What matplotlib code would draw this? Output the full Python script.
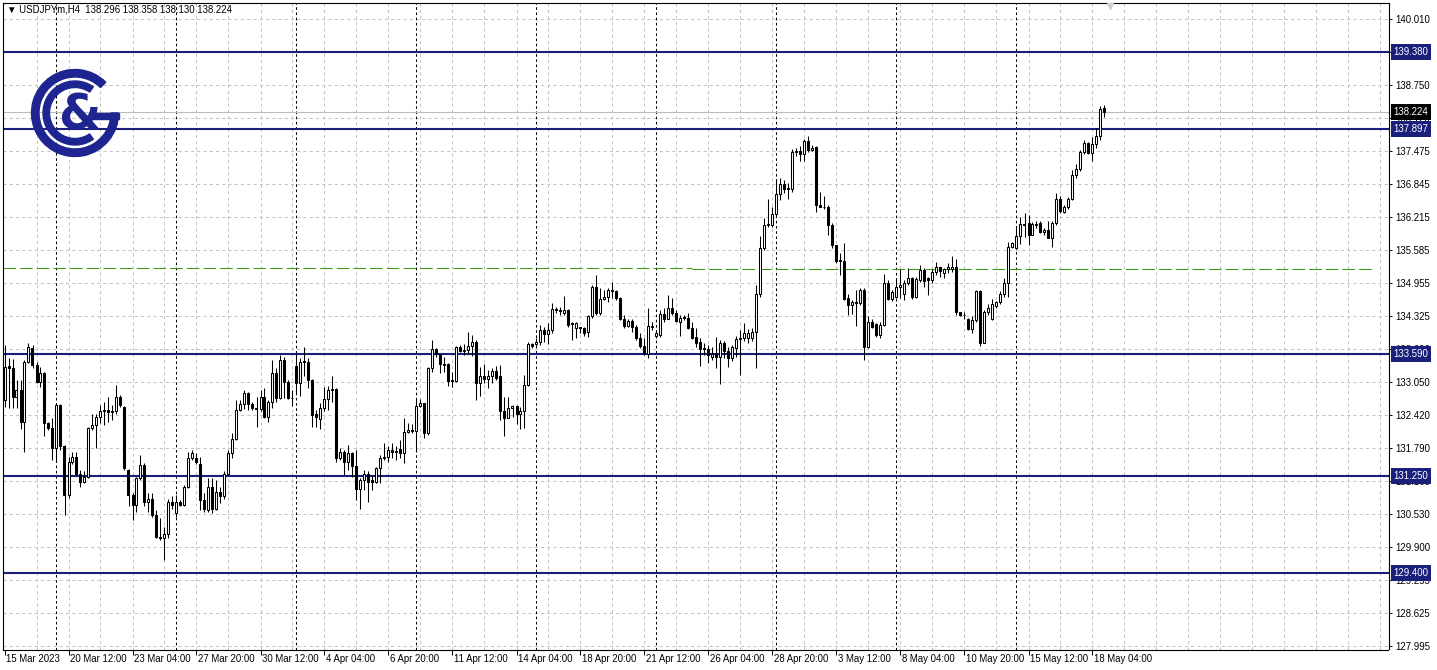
import numpy as np
import matplotlib.pyplot as plt
import matplotlib.transforms as mtrans
from matplotlib.patches import Wedge, Rectangle

plt.rcParams['font.family'] = ['Liberation Sans', 'DejaVu Sans']

# USDJPYm H4 candles, bar 0 = 15 Mar 2023 20:00
opens = [
    132.71, 133.36, 133.32, 132.77, 132.90, 132.29, 133.44, 133.70, 133.38, 133.06,
    133.23, 132.26, 132.18, 131.78, 132.61, 131.82, 130.89, 131.53, 131.62, 131.30,
    131.14, 131.24, 132.17, 132.23, 132.39, 132.49, 132.52, 132.47, 132.49, 132.77,
    132.58, 131.37, 130.89, 130.70, 131.21, 131.46, 130.76, 130.82, 130.51, 130.09,
    130.06, 130.15, 130.76, 130.54, 130.76, 130.70, 131.05, 131.59, 131.59, 131.49,
    130.79, 130.60, 131.05, 130.63, 130.94, 130.86, 131.29, 131.69, 131.97, 132.52,
    132.63, 132.84, 132.63, 132.55, 132.53, 132.77, 132.38, 132.68, 133.22, 132.74,
    133.48, 133.06, 132.74, 133.36, 133.03, 133.46, 133.43, 133.09, 132.44, 132.34,
    132.55, 132.72, 132.90, 132.92, 131.60, 131.72, 131.53, 131.69, 131.45, 131.00,
    131.18, 131.30, 131.18, 131.14, 131.40, 131.59, 131.61, 131.75, 131.72, 131.77,
    131.69, 132.10, 132.14, 132.12, 132.60, 132.65, 132.07, 133.32, 133.68, 133.60,
    133.40, 133.40, 133.09, 133.08, 133.72, 133.64, 133.66, 133.74, 133.83, 133.03,
    133.17, 133.11, 133.16, 133.27, 133.16, 132.49, 132.36, 132.55, 132.60, 132.44,
    132.49, 133.00, 133.78, 133.78, 133.83, 134.05, 133.98, 134.06, 134.45, 134.43,
    134.37, 134.44, 134.18, 134.08, 134.10, 134.08, 134.02, 134.31, 134.88, 134.37,
    134.64, 134.69, 134.82, 134.79, 134.66, 134.26, 134.13, 134.22, 134.11, 133.89,
    133.75, 133.59, 134.11, 133.94, 133.96, 134.35, 134.27, 134.48, 134.37, 134.21,
    134.29, 134.29, 134.09, 133.92, 133.83, 133.71, 133.69, 133.54, 133.59, 133.54,
    133.80, 133.65, 133.52, 133.71, 133.88, 133.89, 133.89, 133.89, 134.02, 134.75,
    135.62, 136.06, 136.06, 136.27, 136.65, 136.84, 136.75, 136.75, 137.47, 137.48,
    137.42, 137.67, 137.50, 137.56, 136.45, 136.41, 136.41, 136.06, 135.67, 135.39,
    135.37, 134.66, 134.53, 134.58, 134.56, 134.82, 133.73, 134.21, 134.16, 133.95,
    134.15, 134.96, 134.64, 134.69, 134.88, 134.75, 134.95, 135.04, 134.69, 135.01,
    135.20, 135.04, 135.01, 135.17, 135.25, 135.14, 135.22, 135.22, 135.25, 134.39,
    134.33, 134.27, 134.07, 134.24, 134.80, 133.80, 134.40, 134.26, 134.52, 134.58,
    134.75, 134.96, 135.65, 135.62, 135.86, 136.06, 136.10, 135.88, 136.08, 136.10,
    135.92, 135.97, 135.82, 136.10, 136.57, 136.31, 136.41, 136.57, 137.03, 137.14,
    137.46, 137.63, 137.44, 137.61, 137.77, 138.296,
]
highs = [
    133.76, 133.51, 133.49, 133.09, 133.09, 133.48, 133.81, 133.76, 133.44, 133.35,
    133.25, 132.29, 132.36, 132.65, 132.63, 131.85, 131.62, 131.72, 131.72, 131.37,
    131.34, 132.20, 132.45, 132.45, 132.61, 132.68, 132.77, 132.61, 133.00, 132.80,
    132.59, 131.38, 130.92, 131.24, 131.66, 131.50, 130.92, 130.92, 130.60, 130.44,
    130.28, 130.82, 130.86, 130.89, 130.79, 131.08, 131.72, 131.75, 131.69, 131.62,
    130.92, 131.21, 131.21, 131.18, 131.05, 131.34, 131.75, 132.07, 132.71, 132.71,
    132.90, 132.87, 132.68, 132.77, 132.90, 132.93, 132.71, 133.48, 133.32, 133.57,
    133.54, 133.09, 132.90, 133.60, 133.51, 133.73, 133.51, 133.12, 132.52, 132.65,
    132.95, 132.97, 133.16, 132.93, 131.79, 131.75, 131.85, 131.72, 131.75, 131.21,
    131.37, 131.34, 131.27, 131.43, 131.66, 131.89, 131.82, 131.88, 131.82, 131.94,
    132.36, 132.26, 132.25, 132.74, 132.72, 132.66, 133.35, 133.86, 133.70, 133.60,
    133.53, 133.41, 133.25, 133.74, 133.76, 133.78, 134.02, 133.96, 133.85, 133.35,
    133.40, 133.28, 133.32, 133.36, 133.38, 132.77, 132.77, 132.61, 132.61, 132.58,
    133.19, 133.83, 133.81, 133.89, 134.15, 134.11, 134.18, 134.56, 134.50, 134.50,
    134.70, 134.45, 134.21, 134.21, 134.11, 134.10, 134.34, 134.91, 135.10, 134.85,
    134.82, 134.85, 134.98, 134.82, 134.69, 134.34, 134.27, 134.27, 134.15, 133.99,
    133.89, 134.48, 134.21, 134.02, 134.43, 134.47, 134.72, 134.66, 134.43, 134.33,
    134.34, 134.37, 134.21, 134.08, 133.89, 133.80, 133.76, 133.73, 133.92, 133.86,
    133.84, 133.73, 133.76, 133.94, 134.05, 134.18, 134.07, 134.08, 134.91, 135.86,
    136.19, 136.56, 136.40, 136.94, 136.96, 136.92, 136.86, 137.52, 137.54, 137.58,
    137.71, 137.76, 137.60, 137.58, 136.70, 136.61, 136.45, 136.10, 135.68, 135.52,
    135.71, 134.75, 134.63, 134.82, 134.85, 134.85, 134.31, 134.27, 134.18, 134.21,
    135.12, 135.01, 134.82, 135.04, 135.22, 135.01, 135.23, 135.07, 135.07, 135.30,
    135.23, 135.07, 135.22, 135.36, 135.26, 135.23, 135.33, 135.46, 135.42, 134.40,
    134.39, 134.29, 134.31, 134.82, 134.82, 134.43, 134.54, 134.64, 134.61, 134.79,
    135.04, 135.74, 135.74, 136.05, 136.22, 136.29, 136.26, 136.12, 136.13, 136.13,
    136.00, 136.13, 136.13, 136.67, 136.61, 136.45, 136.59, 137.12, 137.24, 137.50,
    137.69, 137.66, 137.74, 137.92, 138.34, 138.358,
]
lows = [
    132.58, 132.55, 132.55, 132.55, 132.15, 131.72, 133.41, 133.32, 133.03, 132.96,
    132.01, 132.13, 131.56, 131.53, 131.75, 130.51, 130.83, 131.49, 131.27, 131.05,
    131.11, 131.21, 132.13, 131.78, 132.26, 132.23, 132.29, 132.33, 132.45, 132.57,
    131.37, 130.67, 130.41, 130.57, 131.18, 130.67, 130.57, 130.47, 130.06, 130.03,
    129.64, 130.06, 130.63, 130.47, 130.67, 130.67, 131.02, 131.56, 131.49, 130.60,
    130.57, 130.57, 130.54, 130.60, 130.73, 130.82, 131.27, 131.59, 131.94, 132.49,
    132.53, 132.52, 132.52, 132.20, 132.49, 132.36, 132.29, 132.55, 132.68, 132.72,
    132.74, 132.72, 132.59, 132.84, 132.79, 133.16, 132.93, 132.19, 132.20, 132.15,
    132.49, 132.52, 132.68, 131.53, 131.56, 131.27, 131.37, 131.24, 130.79, 130.62,
    130.99, 130.76, 130.99, 131.11, 131.11, 131.56, 131.53, 131.59, 131.56, 131.59,
    131.51, 132.07, 132.08, 131.75, 132.58, 131.98, 132.04, 133.25, 133.54, 133.23,
    133.25, 132.98, 132.95, 133.06, 133.62, 133.57, 133.59, 133.55, 132.71, 132.79,
    133.03, 132.93, 133.03, 133.09, 132.33, 132.01, 132.36, 132.39, 132.25, 132.15,
    132.17, 132.97, 133.70, 133.72, 133.76, 133.83, 133.79, 133.99, 134.38, 134.34,
    134.34, 134.11, 133.85, 133.89, 133.99, 133.94, 133.92, 134.29, 134.34, 134.33,
    134.63, 134.59, 134.66, 134.63, 134.24, 134.08, 134.11, 134.01, 133.86, 133.71,
    133.57, 133.52, 134.05, 133.89, 133.92, 134.21, 134.26, 134.34, 134.21, 133.94,
    134.24, 134.07, 133.88, 133.73, 133.37, 133.57, 133.41, 133.48, 133.33, 133.01,
    133.51, 133.35, 133.45, 133.54, 133.19, 133.84, 133.81, 133.84, 133.32, 134.69,
    135.58, 136.03, 136.03, 136.24, 136.54, 136.67, 136.56, 136.70, 137.39, 137.28,
    137.29, 137.47, 137.48, 136.31, 136.40, 136.37, 135.87, 135.63, 135.33, 135.10,
    134.63, 134.33, 134.35, 134.13, 134.53, 133.48, 133.71, 134.08, 133.92, 133.89,
    134.12, 134.63, 134.61, 134.67, 134.66, 134.63, 134.91, 134.64, 134.67, 134.98,
    134.88, 134.72, 134.95, 135.10, 135.07, 135.05, 135.14, 135.17, 134.34, 134.31,
    134.27, 134.05, 134.00, 134.21, 133.75, 133.80, 134.34, 134.24, 134.47, 134.54,
    134.69, 134.69, 135.63, 135.60, 135.69, 135.84, 135.68, 135.87, 136.00, 135.90,
    135.88, 135.81, 135.65, 136.06, 136.30, 136.29, 136.37, 136.54, 136.96, 137.10,
    137.42, 137.42, 137.28, 137.53, 137.69, 138.130,
]
closes = [
    133.35, 133.32, 132.77, 132.90, 132.29, 133.44, 133.73, 133.38, 133.06, 133.22,
    132.26, 132.18, 131.78, 132.61, 131.82, 130.89, 131.53, 131.62, 131.30, 131.14,
    131.24, 132.17, 132.23, 132.39, 132.49, 132.52, 132.47, 132.49, 132.77, 132.61,
    131.40, 130.89, 130.70, 131.21, 131.46, 130.76, 130.82, 130.51, 130.09, 130.06,
    130.15, 130.76, 130.70, 130.76, 130.70, 131.05, 131.59, 131.69, 131.53, 130.79,
    130.63, 131.05, 130.63, 130.94, 130.86, 131.29, 131.69, 131.97, 132.52, 132.63,
    132.84, 132.63, 132.55, 132.53, 132.77, 132.38, 132.68, 133.22, 132.74, 133.48,
    133.06, 132.74, 132.75, 133.03, 133.44, 133.43, 133.09, 132.42, 132.39, 132.55,
    132.72, 132.90, 132.92, 131.60, 131.72, 131.53, 131.69, 131.45, 131.00, 131.18,
    131.30, 131.14, 131.14, 131.40, 131.59, 131.61, 131.75, 131.72, 131.73, 131.69,
    132.10, 132.14, 132.12, 132.60, 132.65, 132.07, 133.32, 133.68, 133.60, 133.40,
    133.38, 133.08, 133.08, 133.72, 133.64, 133.67, 133.74, 133.83, 133.03, 133.17,
    133.11, 133.16, 133.27, 133.14, 132.49, 132.36, 132.55, 132.60, 132.44, 132.49,
    133.00, 133.78, 133.74, 133.83, 134.05, 133.98, 134.06, 134.45, 134.43, 134.42,
    134.44, 134.15, 134.17, 134.18, 134.08, 133.99, 134.31, 134.88, 134.37, 134.64,
    134.69, 134.82, 134.79, 134.66, 134.26, 134.13, 134.22, 134.11, 133.89, 133.75,
    133.59, 134.13, 134.13, 133.99, 134.35, 134.27, 134.48, 134.37, 134.22, 134.29,
    134.30, 134.09, 133.90, 133.80, 133.69, 133.69, 133.57, 133.60, 133.54, 133.80,
    133.65, 133.52, 133.73, 133.88, 133.89, 133.99, 133.99, 134.02, 134.75, 135.62,
    136.06, 136.08, 136.27, 136.65, 136.84, 136.75, 136.78, 137.47, 137.48, 137.42,
    137.67, 137.50, 137.54, 136.45, 136.41, 136.40, 136.06, 135.67, 135.37, 135.37,
    134.65, 134.53, 134.58, 134.56, 134.82, 133.73, 134.21, 134.11, 133.95, 134.15,
    134.95, 134.64, 134.77, 134.88, 134.91, 134.95, 135.04, 134.69, 135.03, 135.20,
    134.99, 135.01, 135.17, 135.25, 135.18, 135.22, 135.25, 135.25, 134.39, 134.33,
    134.34, 134.07, 134.24, 134.80, 133.80, 134.40, 134.47, 134.54, 134.58, 134.75,
    134.96, 135.65, 135.71, 135.86, 136.08, 136.09, 135.88, 136.08, 136.06, 135.92,
    135.97, 135.82, 136.10, 136.57, 136.33, 136.41, 136.57, 137.03, 137.14, 137.46,
    137.63, 137.44, 137.61, 137.77, 138.29, 138.224,
]

time_labels = ['15 Mar 2023', '20 Mar 12:00', '23 Mar 04:00', '27 Mar 20:00',
               '30 Mar 12:00', '4 Apr 04:00', '6 Apr 20:00', '11 Apr 12:00',
               '14 Apr 04:00', '18 Apr 20:00', '21 Apr 12:00', '26 Apr 04:00',
               '28 Apr 20:00', '3 May 12:00', '8 May 04:00', '10 May 20:00',
               '15 May 12:00', '18 May 04:00']
price_ticks = [140.010, 139.380, 138.750, 138.120, 137.475, 136.845, 136.215,
               135.585, 134.955, 134.325, 133.690, 133.050, 132.420, 131.790,
               131.160, 130.530, 129.900, 129.255, 128.625, 127.995]
levels = [139.380, 137.897, 133.590, 131.250, 129.400]
bid = 138.224
dash_levels = [135.233, 135.214]
week_starts = [13, 43, 73, 103, 133, 163, 193, 223, 253]

navy = '#1b1f7c'
logo_blue = '#1f2590'
grid_c = '#c4c4c4'

W, H = 1437, 670
fig = plt.figure(figsize=(W / 100, H / 100), dpi=100)
fig.patch.set_facecolor('white')
ax = fig.add_axes([3 / W, 20.5 / H, 1385.5 / W, 646.5 / H])
ax.set_xlim(-0.375, 346)
ax.set_ylim(127.928, 140.317)

n = len(closes)
assert len(opens) == len(highs) == len(lows) == n
x = np.arange(n)
o, h, l, c = (np.array(v) for v in (opens, highs, lows, closes))

# grid
for p in price_ticks:
    ax.axhline(p, color=grid_c, lw=0.75, ls=(0, (3, 3)), zorder=1)
for gx in range(8, 346, 8):
    ax.axvline(gx, color=grid_c, lw=0.75, ls=(0, (3, 3)), zorder=1)
for wx in week_starts:
    ax.axvline(wx, color='black', lw=0.75, ls=(0, (2.5, 2.5)), zorder=1.5)

# dashed level, bid line, horizontal levels
ax.hlines(dash_levels[0], -0.375, 171.9, colors='#3a9a10', lw=0.75,
          linestyles=(0, (12, 4)), zorder=1.6)
ax.hlines(dash_levels[1], 171.9, 342.6, colors='#3a9a10', lw=0.75,
          linestyles=(0, (12, 4)), zorder=1.6)
ax.axhline(bid, color='#bdbdbd', lw=0.8, zorder=1.7)
for lv in levels:
    ax.axhline(lv, color=navy, lw=1.5, zorder=2)

# candles
up = c >= o
body_lo = np.minimum(o, c)
body_h = np.maximum(np.abs(c - o), 0.004)
ax.vlines(x, l, h, color='black', lw=0.75, zorder=3)
ax.bar(x[up], body_h[up], 0.5, body_lo[up], color='white', edgecolor='black',
       lw=0.75, zorder=4)
ax.bar(x[~up], body_h[~up], 0.5, body_lo[~up], color='black', edgecolor='black',
       lw=0.75, zorder=4)

# axes styling
for s in ax.spines.values():
    s.set_color('black')
    s.set_linewidth(0.8)
ax.yaxis.tick_right()
ax.set_yticks(price_ticks)
ax.set_yticklabels(['%.3f' % p for p in price_ticks])
ax.tick_params(axis='y', direction='out', length=2.5, width=0.7, pad=2.5,
               labelsize=6.9, colors='black')
label_pos = list(range(0, 16 * len(time_labels), 16))
ax.set_xticks(label_pos)
ax.set_xticklabels(time_labels)
ax.tick_params(axis='x', direction='out', length=3.5, width=0.7, pad=-0.2,
               labelsize=6.9, colors='black')
shift = mtrans.ScaledTranslation(2 / 100, 0, fig.dpi_scale_trans)
for t in ax.get_xticklabels():
    t.set_ha('left')
    t.set_transform(t.get_transform() + shift)

# price boxes on the right scale
ytr = ax.get_yaxis_transform()
box_tr = mtrans.offset_copy(ytr, fig=fig, x=5, y=0, units='dots')
for lv in levels:
    ax.text(1.0, lv, '%.3f' % lv, transform=box_tr, ha='left', va='center',
            fontsize=6.9, color='white', zorder=6, clip_on=False,
            bbox=dict(boxstyle='square,pad=0.3', fc=navy, ec='none'))
ax.text(1.0, bid, '%.3f' % bid, transform=box_tr, ha='left', va='center',
        fontsize=6.9, color='white', zorder=7, clip_on=False,
        bbox=dict(boxstyle='square,pad=0.3', fc='black', ec='none'))

# header
fig.text(7 / W, 1 - 10 / H, '\u25bc USDJPYm,H4  %.3f %.3f %.3f %.3f'
         % (opens[-1], highs[-1], lows[-1], closes[-1]),
         fontsize=6.9, va='center', ha='left', color='black')
ax.plot([276.4], [0.996], marker='v', ms=5, color='#cfcfcf',
        transform=ax.get_xaxis_transform(), clip_on=False, zorder=8)

# logo
lax = fig.add_axes([25 / W, (H - 163) / H, 100 / W, 100 / H])
lax.set_xlim(0, 100)
lax.set_ylim(0, 100)
lax.axis('off')
lax.add_patch(Wedge((50, 50), 43.5, 45, 360, width=7.5, color=logo_blue))
lax.add_patch(Rectangle((64, 44), 29.5, 6.5, color=logo_blue))
lax.add_patch(Wedge((50, 50), 32, 55, 305, width=6.5, color=logo_blue))
lax.text(54, 48, '&', fontsize=35, fontweight='bold', ha='center',
         va='center', color=logo_blue, family='DejaVu Sans')

fig.savefig('out.png', dpi=100, facecolor='white')
